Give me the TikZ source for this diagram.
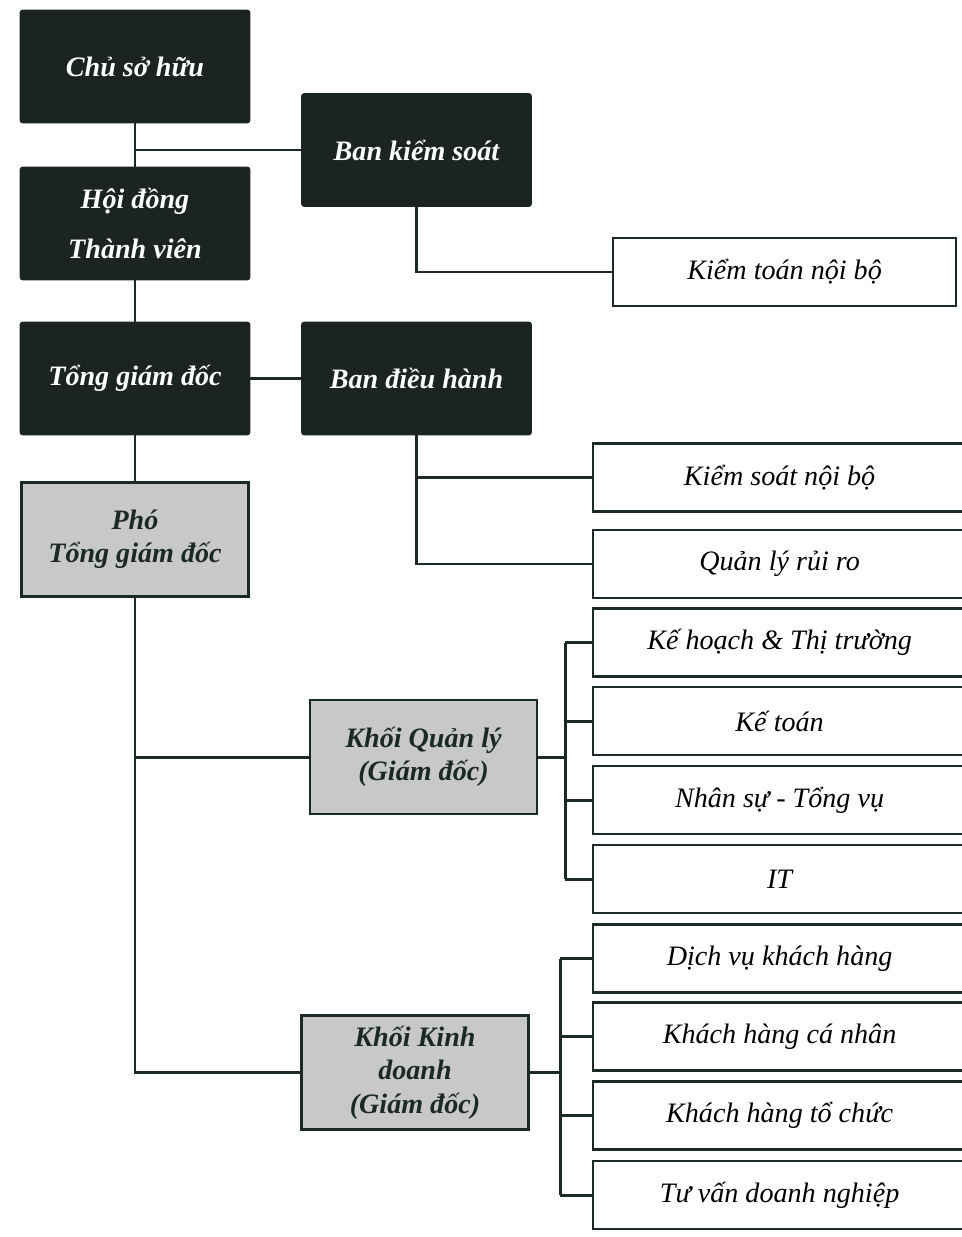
\documentclass[tikz,border=0pt]{standalone}
\usepackage{fontspec}
\setmainfont{Liberation Serif}
\usepackage{tikz}
\usetikzlibrary{positioning}

\definecolor{boardclr}{HTML}{1C2422}
\definecolor{divclr}{HTML}{C8C8C8}
\definecolor{lineclr}{HTML}{1A2826}

\begin{document}
\begin{tikzpicture}[x=0.02cm,y=-0.02cm]
		\tikzset{BoardStyle/.style = {fill=boardclr, draw=boardclr, rounded corners=1.5pt,
				minimum width=4.6cm, minimum height=2.26cm, text=white, align=center,
				font=\fontsize{16}{19}\selectfont\bfseries\itshape}}
		\tikzset{DivStyle/.style = {fill=divclr, draw=lineclr, line width=1.2pt,
				minimum width=4.54cm, minimum height=2.28cm, text=lineclr, align=center,
				font=\fontsize{16}{19}\selectfont\bfseries\itshape}}
		\tikzset{UnitStyle/.style = {fill=white, draw=lineclr, line width=1.3pt, anchor=west,
				minimum width=7.46cm, minimum height=1.36cm, text=black,
				font=\fontsize{16}{19}\selectfont\itshape}}
		\tikzset{LinkStyle/.style = {draw=lineclr, line width=1.7pt}}
		\useasboundingbox (0,0) rectangle (962,1237);
		
		\node[BoardStyle] (CSH) at (135,66.5) {Chủ sở hữu};
		\node[BoardStyle] (BKS) at (416.5,150) {Ban kiểm soát};
		\node[BoardStyle,font=\fontsize{16}{28}\selectfont\bfseries\itshape] (HDTV) at (135,223.5) {Hội đồng\\Thành viên};
		\node[BoardStyle] (TGD) at (135,378.5) {Tổng giám đốc};
		\node[BoardStyle] (BDH) at (416.5,378.5) {Ban điều hành};
		
		\node[DivStyle] (PTGD) at (135,539.5) {Phó\\Tổng giám đốc};
		\node[DivStyle] (KQL) at (423.5,757) {Khối Quản lý\\(Giám đốc)};
		\node[DivStyle] (KKD) at (415,1072.5) {Khối Kinh\\doanh\\(Giám đốc)};
		
		\node[UnitStyle,minimum width=6.86cm] (KTNB) at (612,272) {Kiểm toán nội bộ};
		\node[UnitStyle] (KSNB) at (592,477.5) {Kiểm soát nội bộ};
		\node[UnitStyle] (QLRR) at (592,564) {Quản lý rủi ro};
		
		\node[UnitStyle] (U1) at (592,642.5) {Kế hoạch \& Thị trường};
		\node[UnitStyle] (U2) at (592,721) {Kế toán};
		\node[UnitStyle] (U3) at (592,800) {Nhân sự - Tổng vụ};
		\node[UnitStyle] (U4) at (592,879) {IT};
		
		\node[UnitStyle] (U5) at (592,958.5) {Dịch vụ khách hàng};
		\node[UnitStyle] (U6) at (592,1036.5) {Khách hàng cá nhân};
		\node[UnitStyle] (U7) at (592,1115.5) {Khách hàng tổ chức};
		\node[UnitStyle] (U8) at (592,1195) {Tư vấn doanh nghiệp};
		
		\coordinate (BusA) at (565,757);
		\coordinate (BusB) at (560,1072.5);
		
		%%%%%%%%%%%%%%%%%%%%%%%%%%%%%%
		
		\draw[LinkStyle] (CSH) -- (HDTV);
		\draw[LinkStyle] (BKS.west) -- (BKS.west -| CSH.south);
		\draw[LinkStyle] (HDTV) -- (TGD);
		\draw[LinkStyle] (TGD) -- (BDH);
		\draw[LinkStyle] (BKS.south) |- (KTNB.west);
		\draw[LinkStyle] (BDH.south) |- (KSNB.west);
		\draw[LinkStyle] (BDH.south) |- (QLRR.west);
		
		\draw[LinkStyle] (TGD) -- (PTGD);
		\draw[LinkStyle] (PTGD.south) |- (KKD.west);
		\draw[LinkStyle] (KQL.west) -- (KQL.west -| PTGD.south);
		
		\draw[LinkStyle] (KQL.east) -- (BusA);
		\draw[LinkStyle] (BusA |- U1.west) -- (BusA |- U4.west);
		\foreach \u in {U1,U2,U3,U4}
			\draw[LinkStyle] (BusA |- \u.west) -- (\u.west);
		
		\draw[LinkStyle] (KKD.east) -- (BusB);
		\draw[LinkStyle] (BusB |- U5.west) -- (BusB |- U8.west);
		\foreach \u in {U5,U6,U7,U8}
			\draw[LinkStyle] (BusB |- \u.west) -- (\u.west);
		
	\end{tikzpicture}
\end{document}
